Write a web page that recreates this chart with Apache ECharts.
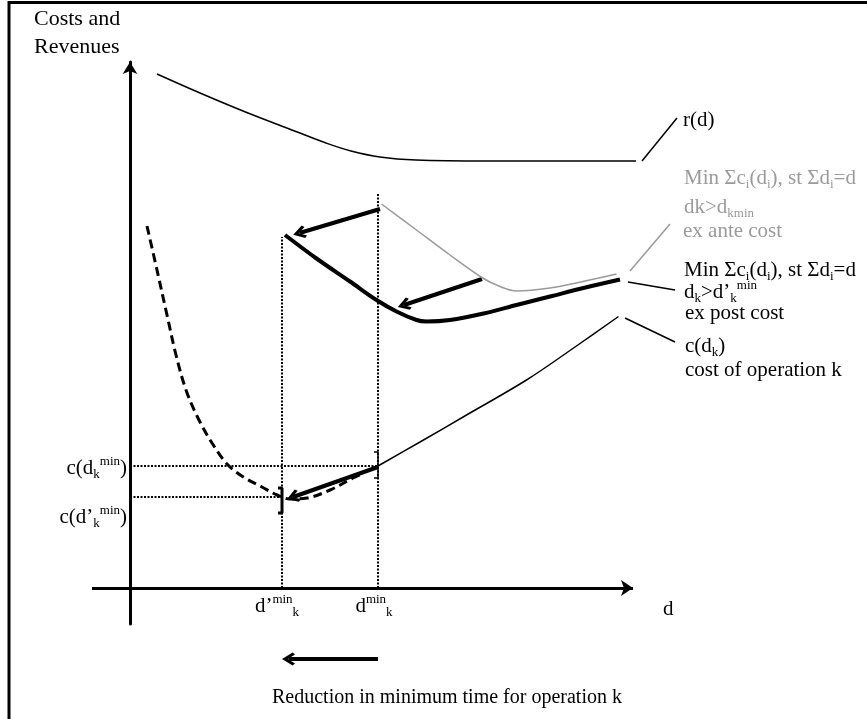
<!DOCTYPE html>
<html>
<head>
<meta charset="utf-8">
<title>Reduction in minimum time for operation k</title>
<script src="https://cdn.jsdelivr.net/npm/echarts@6/dist/echarts.min.js"></script>
<style>
  html, body { margin: 0; padding: 0; background: #fff; }
  #chart { width: 867px; height: 719px; }
</style>
</head>
<body>
<div id="chart"></div>
<script>
// values: x = d, y = costs and revenues
var dPrimeMin = 30.4;      // d'_k^min
var dMin = 49.6;           // d_k^min
var cPrimeMin = 18.2;      // c(d'_k^min)
var cMin = 24.4;           // c(d_k^min)
var dMinGuideTop = 79;
var dPrimeGuideTop = 70.2;
var xAxisEnd = 100.6;

// r(d)
var revenueCurve = [[5.4, 102.8], [14, 99], [23.6, 95], [34, 91], [39.2, 89], [44.2, 87.4], [50, 86.2], [57.2, 85.6], [71.4, 85.4], [101.2, 85.4]];
// ex ante cost, dk > dkmin
var exAnteCost = [[50.3, 76.8], [57.3, 71.6], [64, 66.6], [70.7, 61.9], [74, 60.3], [77.3, 59.4], [84, 60], [90.6, 61.3], [97.3, 62.8]];
// ex post cost, dk > d'k min
var exPostCost = [[31, 70.6], [37.3, 65.9], [44, 61.3], [49.3, 57.6], [53.3, 55.3], [57.3, 53.6], [59.3, 53.3], [64, 53.6], [70.7, 54.9], [77.3, 56.6], [84, 58.3], [90.7, 60], [98, 61.7]];
// c(dk)
var opCost = [[49.6, 24.4], [58, 29.2], [67.3, 34.6], [79.3, 41.6], [89, 48.2], [97.7, 54.3]];
// c(dk) below the old minimum (dashed)
var opCostDashed = [[3.4, 72.4], [5.4, 63.6], [7.4, 54.6], [9.2, 46.6], [11.2, 39.6], [13.6, 34], [16.4, 29], [19.6, 24.6], [23, 22], [26.4, 20.2], [29.4, 18.6], [32, 17.8], [35.4, 18], [40, 19.6], [44.6, 22], [46.4, 22.8]];

var shiftArrows = [
    [[50, 75.8], [33.9, 71]],
    [[70.4, 61.8], [54.8, 56.6]],
    [[49.6, 24.2], [32.6, 18.2]]
];
var reductionArrow = [[dMin, -14.2], [dPrimeMin + 1.3, -14.2]];
// leader lines: r(d), ex ante, ex post, c(dk)
var leaderLines = [
    [[102.4, 85.4], [109.4, 94]],
    [[100, 63.4], [108, 72.8]],
    [[99.6, 61.2], [109, 59.6]],
    [[99, 54], [109, 49.2]]
];
var rightBracket = [[dMin - 0.8, 27.2], [dMin, 27.2], [dMin, 22], [dMin - 0.8, 22]];
var leftBracket = [[dPrimeMin - 0.8, 20], [dPrimeMin, 20], [dPrimeMin, 15], [dPrimeMin - 0.8, 15]];

var SERIF = '"Liberation Serif", "Times New Roman", serif';
var GRAY = '#9a9a9a';
var chevron = 'path://M50,0 L100,62 L84,76 L50,34 L16,76 L0,62 Z';

// rich text for echarts labels
function labelRich(color) {
    return {
        n: {fontSize: 21, fontFamily: SERIF, color: color, lineHeight: 26},
        sb: {fontSize: 13, fontFamily: SERIF, color: color, lineHeight: 13, verticalAlign: 'bottom'},
        sp: {fontSize: 13, fontFamily: SERIF, color: color, lineHeight: 13, verticalAlign: 'top'}
    };
}
// rich text for graphic texts (zrender style)
function zrRich(color, size) {
    size = size || 21;
    return {
        n: {font: size + 'px ' + SERIF, fill: color, lineHeight: 26},
        sb: {font: '13px ' + SERIF, fill: color, lineHeight: 13, verticalAlign: 'bottom'},
        sp: {font: '13px ' + SERIF, fill: color, lineHeight: 13, verticalAlign: 'top'}
    };
}
function note(x, y, text, color, size) {
    return {
        type: 'text', x: x, y: y, silent: true,
        style: {text: text, rich: zrRich(color, size), fill: color, font: (size || 21) + 'px ' + SERIF, align: 'left', verticalAlign: 'middle'}
    };
}
function curve(data, color, width, type) {
    return {
        type: 'line', data: data, showSymbol: false, symbol: 'none', smooth: 0.35,
        clip: false, silent: true,
        lineStyle: {color: color, width: width, type: type || 'solid'}
    };
}
function segs(list) {
    return list.map(function (c) { return {coords: c}; });
}

var chart = echarts.init(document.getElementById('chart'));
chart.setOption({
    animation: false,
    backgroundColor: '#fff',
    // grid reaches past the end of the d axis so r(d) is not clipped
    grid: {left: 92, right: 217, top: 62, bottom: 95},
    xAxis: {
        type: 'value', min: -7.6, max: 104,
        axisLine: {show: false},
        axisTick: {show: false}, axisLabel: {show: false}, splitLine: {show: false}
    },
    yAxis: {
        type: 'value', min: -7.2, max: 105.2,
        axisLine: {onZero: true, symbol: ['none', 'arrow'], symbolSize: [11, 12], lineStyle: {color: '#000', width: 3}},
        axisTick: {show: false}, axisLabel: {show: false}, splitLine: {show: false}
    },
    series: [
        {
            // d axis
            type: 'lines', coordinateSystem: 'cartesian2d', clip: false, silent: true,
            symbol: ['none', 'arrow'], symbolSize: [11, 12],
            data: segs([[[-7.6, 0], [xAxisEnd, 0]]]),
            lineStyle: {color: '#000', width: 3, opacity: 1}
        },
        curve(revenueCurve, '#000', 1.5),
        curve(exAnteCost, GRAY, 1.5),
        curve(exPostCost, '#000', 4),
        curve(opCost, '#000', 1.5),
        curve(opCostDashed, '#000', 3, [9, 5]),
        {
            type: 'lines', coordinateSystem: 'cartesian2d', clip: false, silent: true,
            data: segs([
                [[0, cMin], [dMin, cMin]],
                [[0, cPrimeMin], [dPrimeMin, cPrimeMin]],
                [[dMin, 0], [dMin, dMinGuideTop]],
                [[dPrimeMin, 0], [dPrimeMin, dPrimeGuideTop]]
            ]),
            lineStyle: {color: '#000', width: 2, type: [2, 1.5], opacity: 1}
        },
        {
            type: 'line', data: rightBracket, showSymbol: false, symbol: 'none', silent: true,
            lineStyle: {color: '#000', width: 1.5}
        },
        {
            type: 'line', data: leftBracket, showSymbol: false, symbol: 'none', silent: true,
            lineStyle: {color: '#000', width: 3}
        },
        {
            type: 'lines', coordinateSystem: 'cartesian2d', clip: false, silent: true,
            symbol: ['none', chevron], symbolSize: [15, 13],
            data: segs(shiftArrows),
            lineStyle: {color: '#000', width: 4, opacity: 1, curveness: 0}
        },
        {
            type: 'lines', coordinateSystem: 'cartesian2d', clip: false, silent: true,
            symbol: ['none', chevron], symbolSize: [16, 13],
            data: segs([reductionArrow]),
            lineStyle: {color: '#000', width: 4, opacity: 1}
        },
        {
            type: 'lines', coordinateSystem: 'cartesian2d', clip: false, silent: true,
            data: leaderLines.map(function (c, i) {
                return {coords: c, lineStyle: {color: i === 1 ? GRAY : '#000'}};
            }),
            lineStyle: {width: 1.5, opacity: 1}
        },
        {
            // tick labels on the axes
            type: 'scatter', symbolSize: 0, silent: true,
            itemStyle: {opacity: 1},
            data: [
                {value: [dPrimeMin, 0], label: {position: 'bottom', distance: 5, offset: [-5, 0], formatter: '{n|d’}{sp|min}{sb|k}'}},
                {value: [dMin, 0], label: {position: 'bottom', distance: 5, offset: [-4, 0], formatter: '{n|d}{sp|min}{sb|k}'}},
                {value: [0, cMin], label: {position: 'left', distance: 3, offset: [0, 2], formatter: '{n|c(d}{sb|k}{sp|min}{n|)}'}},
                {value: [0, cPrimeMin], label: {position: 'left', distance: 3, offset: [0, 20], formatter: '{n|c(d’}{sb|k}{sp|min}{n|)}'}}
            ],
            label: {show: true, color: '#000', opacity: 1, rich: labelRich('#000')}
        }
    ],
    graphic: [
        {
            type: 'polyline', silent: true,
            shape: {points: [[9, 719], [9, 2.5], [867, 2.5]]},
            style: {stroke: '#000', lineWidth: 3, fill: null}
        },
        {
            type: 'text', x: 34, y: 5, silent: true,
            style: {text: 'Costs and\nRevenues', font: '22px ' + SERIF, fill: '#000', lineHeight: 28}
        },
        note(683, 120, '{n|r(d)}', '#000'),
        note(684, 178, '{n|Min Σc}{sb|i}{n|(d}{sb|i}{n|), st Σd}{sb|i}{n|=d}', GRAY),
        note(684, 207, '{n|dk>d}{sb|kmin}', GRAY),
        note(683, 231, '{n|ex ante cost}', GRAY),
        note(684, 270, '{n|Min Σc}{sb|i}{n|(d}{sb|i}{n|), st Σd}{sb|i}{n|=d}', '#000'),
        note(684, 292, '{n|d}{sb|k}{n|>d’}{sb|k}{sp|min}', '#000'),
        note(685, 313, '{n|ex post cost}', '#000'),
        note(685, 346, '{n|c(d}{sb|k}{n|)}', '#000'),
        note(685, 370, '{n|cost of operation k}', '#000'),
        note(663, 609, '{n|d}', '#000'),
        note(272, 698, '{n|Reduction in minimum time for operation k}', '#000', 20)
    ]
});
</script>
</body>
</html>
